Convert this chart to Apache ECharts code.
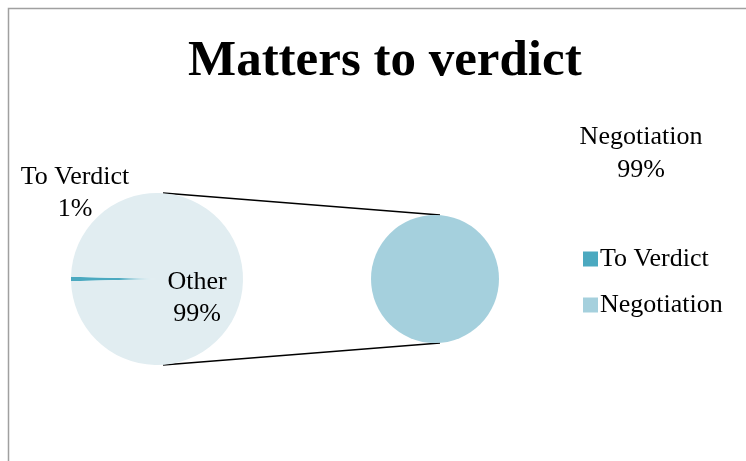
<!DOCTYPE html>
<html>
<head>
<meta charset="utf-8">
<script src="https://cdn.jsdelivr.net/npm/echarts@6/dist/echarts.min.js"></script>
<style>
html,body{margin:0;padding:0;background:#fff;}
#main{width:746px;height:461px;}
</style>
</head>
<body>
<div id="main"></div>
<script>
// data
var categories = ['To Verdict', 'Negotiation'];
var values = [0.8, 99.2];
var otherName = 'Other';
var colors = ['#4ba9c0', '#a5d0dd'];

var total = values[0] + values[1];
function pct(v){ return Math.round(v / total * 100) + '%'; }

// layout of the two pies
var L = {cx:157, cy:279, r:86};
var R = {cx:435, cy:279, r:64};
var font = '"Liberation Serif", "DejaVu Serif", serif';

var chart = echarts.init(document.getElementById('main'));

var option = {
  backgroundColor: '#fff',
  animation: false,
  title: {
    text: 'Matters to verdict',
    left: 183,
    top: 31,
    textStyle: {fontFamily: font, fontSize: 51, fontWeight: 'bold', color: '#000'}
  },
  legend: {
    orient: 'vertical',
    left: 578,
    top: 241,
    itemWidth: 15,
    itemHeight: 15,
    itemGap: 20,
    itemStyle: {borderWidth: 0},
    icon: 'rect',
    data: categories,
    textStyle: {fontFamily: font, fontSize: 26, color: '#000', padding: [0,0,0,-3]}
  },
  graphic: [
    {type:'rect', shape:{x:8.5, y:8.5, width:800, height:500}, style:{fill:'none', stroke:'#a0a0a0', lineWidth:1.5}, silent:true},
    {type:'line', shape:{x1:L.cx+6, y1:L.cy-L.r, x2:R.cx+5, y2:R.cy-R.r}, style:{stroke:'#000', lineWidth:1.5}, silent:true},
    {type:'line', shape:{x1:L.cx+6, y1:L.cy+L.r, x2:R.cx+5, y2:R.cy+R.r}, style:{stroke:'#000', lineWidth:1.5}, silent:true}
  ],
  series: [
    {
      type: 'pie',
      center: [L.cx, L.cy],
      radius: [0, L.r],
      startAngle: 180 + values[0] / total * 180,
      clockwise: true,
      minAngle: 0,
      avoidLabelOverlap: false,
      labelLine: {show: false},
      label: {
        fontFamily: font, fontSize: 26, color: '#000', lineHeight: 32,
        formatter: function(p){ return p.name + '\n' + pct(p.value); }
      },
      labelLayout: function(p){
        if (p.dataIndex === 0) return {x: 75, y: 193, align: 'center', verticalAlign: 'middle'};
        return {x: 197, y: 298, align: 'center', verticalAlign: 'middle'};
      },
      data: [
        {name: categories[0], value: values[0], itemStyle: {color: colors[0]}},
        {name: otherName, value: values[1], itemStyle: {color: '#e1edf1'}}
      ]
    },
    {
      type: 'pie',
      center: [R.cx, R.cy],
      radius: [0, R.r],
      labelLine: {show: false},
      label: {
        fontFamily: font, fontSize: 26, color: '#000', lineHeight: 33,
        formatter: function(p){ return p.name + '\n' + pct(p.value); }
      },
      labelLayout: function(){
        return {x: 641, y: 154, align: 'center', verticalAlign: 'middle'};
      },
      data: [
        {name: categories[1], value: values[1], itemStyle: {color: colors[1]}}
      ]
    }
  ]
};
chart.setOption(option);
</script>
</body>
</html>
